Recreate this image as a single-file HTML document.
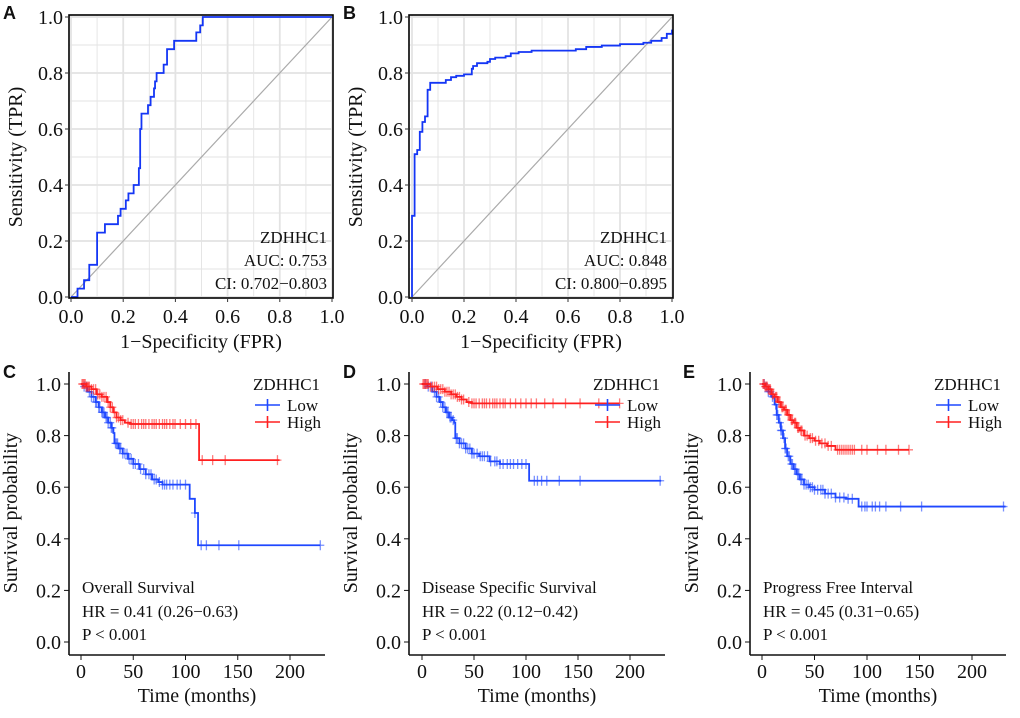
<!DOCTYPE html>
<html><head><meta charset="utf-8"><style>
body{margin:0;background:#fff}
svg text{font-family:"Liberation Serif",serif;fill:#111}
</style></head><body>
<svg id="fig" width="1020" height="713" viewBox="0 0 1020 713" xmlns="http://www.w3.org/2000/svg"></svg>
<script>
// ROC data (breakpoints: at fpr, tpr steps up to value)
const rocA_fpr=[0.025,0.05,0.07,0.1,0.13,0.18,0.19,0.21,0.22,0.24,0.26,0.265,0.27,0.295,0.305,0.318,0.322,0.328,0.355,0.368,0.395,0.48,0.495,0.505,1];
const rocA_tpr=[0.03,0.06,0.115,0.23,0.26,0.29,0.315,0.345,0.37,0.40,0.46,0.6,0.655,0.685,0.715,0.745,0.77,0.80,0.83,0.885,0.915,0.945,0.97,1,1];
const rocB_fpr=[0,0.01,0.02,0.03,0.04,0.05,0.06,0.07,0.13,0.15,0.17,0.2,0.23,0.235,0.25,0.29,0.30,0.32,0.36,0.38,0.41,0.46,0.63,0.67,0.73,0.80,0.89,0.92,0.96,0.98,1];
const rocB_tpr=[0.29,0.51,0.525,0.59,0.625,0.645,0.74,0.765,0.775,0.785,0.79,0.795,0.815,0.825,0.835,0.84,0.85,0.855,0.86,0.87,0.875,0.88,0.885,0.893,0.898,0.903,0.908,0.915,0.925,0.94,0.955];
const xTicksROC=[0,0.2,0.4,0.6,0.8,1.0];
const yTicksROC=[0,0.2,0.4,0.6,0.8,1.0];
// KM data
const cLowT=[2,6,10,14,17,20,23,26,29,31,32,36,40,45,50,56,62,68,74,78,104,109,112];
const cLowS=[0.99,0.97,0.95,0.93,0.91,0.89,0.87,0.85,0.83,0.81,0.77,0.75,0.73,0.71,0.69,0.67,0.65,0.63,0.62,0.61,0.555,0.50,0.375];
const cHighT=[5,10,15,20,25,28,31,34,38,42,47,113];
const cHighS=[0.99,0.98,0.96,0.95,0.93,0.91,0.89,0.87,0.86,0.85,0.845,0.705];
const cLowCens=[3,5,8,10,12,14,15,17,18,20,21,22,24,25,26,28,29,30,33,34,35,37,38,40,42,44,46,48,50,52,55,57,60,62,65,67,70,72,75,78,80,82,85,88,92,95,100,109,115,120,132,151,229];
const cHighCens=[1,2,3,4,5,6,7,8,10,12,14,16,18,20,22,24,26,28,30,32,34,36,38,40,45,48,50,52,55,58,60,62,65,68,70,72,75,78,80,82,85,88,90,95,100,105,110,116,126,138,188];
const dLowT=[5,10,14,17,20,23,26,29,31,32,36,42,48,55,65,75,103];
const dLowS=[0.99,0.97,0.95,0.93,0.91,0.89,0.87,0.86,0.85,0.79,0.77,0.75,0.73,0.72,0.70,0.69,0.625];
const dHighT=[8,15,22,28,33,38,43,48];
const dHighS=[0.99,0.98,0.97,0.96,0.95,0.94,0.93,0.925];
const dLowCens=[3,6,9,12,14,16,18,20,22,24,25,27,28,30,33,34,36,38,40,42,44,46,48,50,53,56,58,60,63,66,70,72,75,78,82,85,88,92,96,100,108,111,115,120,132,152,229];
const dHighCens=[1,2,3,4,5,6,8,10,12,14,16,18,20,22,24,26,28,30,32,34,36,38,40,45,48,50,52,55,58,60,62,65,68,70,72,75,78,80,85,90,95,100,105,110,118,126,138,152,170,190];
const eLowT=[3,6,9,12,14,16,18,20,22,24,27,30,33,36,40,45,50,60,70,80,92];
const eLowS=[0.99,0.97,0.95,0.92,0.88,0.85,0.82,0.79,0.75,0.72,0.69,0.67,0.65,0.63,0.61,0.60,0.59,0.575,0.56,0.555,0.525];
const eHighT=[3,6,9,12,15,18,21,24,27,30,33,36,40,45,50,55,62,70];
const eHighS=[0.99,0.98,0.96,0.95,0.93,0.91,0.90,0.88,0.86,0.85,0.83,0.82,0.80,0.79,0.78,0.77,0.76,0.745];
const eLowCens=[2,4,6,8,10,13,14,15,17,18,19,21,22,23,25,26,28,29,31,32,34,35,37,38,40,42,44,46,48,50,53,56,58,60,63,66,70,74,78,82,86,95,98,100,105,108,112,118,132,152,230];
const eHighCens=[1,2,3,4,5,6,7,8,10,11,13,14,16,17,19,20,22,23,25,26,28,29,31,32,34,35,37,38,41,43,46,48,51,54,57,60,63,66,72,74,76,78,80,82,84,86,88,95,100,110,118,130,140];
const xTicksKM=[0,50,100,150,200];
const yTicksKM=[0,0.2,0.4,0.6,0.8,1.0];

const NS="http://www.w3.org/2000/svg";
const svg=document.getElementById('fig');
function mk(tag,attrs,parent,text){const e=document.createElementNS(NS,tag);for(const k in attrs)e.setAttribute(k,attrs[k]);if(text!==undefined)e.textContent=text;(parent||svg).appendChild(e);return e;}

function panelLabel(letter,x,y){
  const t=mk('text',{x:x,y:y,'font-size':18,'font-weight':'bold',style:'font-family:"Liberation Sans",sans-serif'},svg,letter);
  
  
}

function rocPanel(id,bx0,bx1,x0,x1,fpr,tpr,auc,ci){
  const y0=297,y1=17,by0=15,by1=298;
  const sx=v=>x0+(x1-x0)*v, sy=v=>y0+(y1-y0)*v;
  const g=mk('g',{});
  
  
  for(let i=0;i<=10;i++){const v=i/10;const maj=i%2==0;
    mk('line',{x1:sx(v),x2:sx(v),y1:by0,y2:by1,stroke:'#e3e3e3','stroke-width':maj?1.8:0.9},g);
    mk('line',{x1:bx0,x2:bx1,y1:sy(v),y2:sy(v),stroke:'#e3e3e3','stroke-width':maj?1.8:0.9},g);}
  mk('line',{x1:sx(0),y1:sy(0),x2:sx(1),y2:sy(1),stroke:'#aaaaaa','stroke-width':1.2},g);
  let d='M'+sx(0)+','+sy(0);
  for(let i=0;i<fpr.length;i++){d+=' H'+sx(fpr[i])+' V'+sy(tpr[i]);}
  const p=mk('path',{d:d,fill:'none',stroke:'#1436f5','stroke-width':1.8},g);
  
  
  mk('rect',{x:bx0,y:by0,width:bx1-bx0,height:by1-by0,fill:'none',stroke:'#000','stroke-width':1.6},g);
  xTicksROC.forEach(v=>{mk('line',{x1:sx(v),x2:sx(v),y1:by1,y2:by1+4,stroke:'#333'},g);
    const t=mk('text',{x:sx(v),y:323,'font-size':20,'text-anchor':'middle'},g,v.toFixed(1));
    });
  yTicksROC.forEach(v=>{mk('line',{x1:bx0-4,x2:bx0,y1:sy(v),y2:sy(v),stroke:'#333'},g);
    const t=mk('text',{x:bx0-6,y:sy(v)+7,'font-size':20,'text-anchor':'end'},g,v.toFixed(1));
    });
  const xt=mk('text',{x:(bx0+bx1)/2,y:348,'font-size':20,'text-anchor':'middle'},g,'1\u2212Specificity (FPR)');
  
  const cy=157,cx=bx0-47;
  const yt=mk('text',{x:cx,y:cy,'font-size':20,'text-anchor':'middle',transform:'rotate(-90 '+cx+' '+cy+')'},g,'Sensitivity (TPR)');
  
  const ax=bx1-6;
  [['ZDHHC1',243],['AUC: '+auc,266],['CI: '+ci,289]].forEach((a,i)=>{
    const t=mk('text',{x:ax,y:a[1],'font-size':17,'text-anchor':'end'},g,a[0]);
    });
}

function stepY(T,S,t){let s=1;for(let i=0;i<T.length;i++){if(T[i]<=t)s=S[i];}return s;}

function kmPanel(id,ax,x0,x200,lowT,lowS,lowEnd,lowC,highT,highS,highEnd,highC,title,hr){
  const sx=v=>x0+(x200-x0)*v/200, sy=v=>642-258*v;
  const bottom=655,top=372;
  const g=mk('g',{});
  
  
  mk('line',{x1:ax,x2:ax,y1:top,y2:bottom,stroke:'#111','stroke-width':1.6},g);
  mk('line',{x1:ax,x2:ax+256,y1:bottom,y2:bottom,stroke:'#111','stroke-width':1.6},g);
  xTicksKM.forEach(v=>{mk('line',{x1:sx(v),x2:sx(v),y1:bottom,y2:bottom+5,stroke:'#111'},g);
    const t=mk('text',{x:sx(v),y:678,'font-size':20,'text-anchor':'middle'},g,String(v));
    });
  yTicksKM.forEach(v=>{mk('line',{x1:ax-5,x2:ax,y1:sy(v),y2:sy(v),stroke:'#111'},g);
    const t=mk('text',{x:ax-8,y:sy(v)+7,'font-size':20,'text-anchor':'end'},g,v.toFixed(1));
    });
  const xt=mk('text',{x:ax+128,y:702,'font-size':20,'text-anchor':'middle'},g,'Time (months)');
  
  const cx=ax-52,cy=513;
  const yt=mk('text',{x:cx,y:cy,'font-size':20,'text-anchor':'middle',transform:'rotate(-90 '+cx+' '+cy+')'},g,'Survival probability');
  
  function curve(T,S,end,C,col,name){
    let d='M'+sx(0)+','+sy(1);
    for(let i=0;i<T.length;i++){d+=' H'+sx(T[i])+' V'+sy(S[i]);}
    d+=' H'+sx(end);
    const p=mk('path',{d:d,fill:'none',stroke:col,'stroke-width':1.8},g);
    
    C.forEach(t=>{const x=sx(t),y=sy(stepY(T,S,t));
      const c=mk('path',{d:'M'+(x-4)+','+y+' H'+(x+4)+' M'+x+','+(y-5)+' V'+(y+5),stroke:col,'stroke-width':1.3,'stroke-opacity':0.6,fill:'none'},g);
      });
  }
  curve(lowT,lowS,lowEnd,lowC,'#1f48ff','low');
  curve(highT,highS,highEnd,highC,'#ff2020','high');
  const lx=ax+184;
  const lt=mk('text',{x:lx,y:390,'font-size':17},g,'ZDHHC1');
  
  [['Low','#1f48ff',405],['High','#ff2020',422]].forEach(a=>{
    const e=mk('g',{},g);
    
    
    mk('line',{x1:lx+2,x2:lx+27,y1:a[2],y2:a[2],stroke:a[1],'stroke-width':1.6},e);
    mk('line',{x1:lx+14.5,x2:lx+14.5,y1:a[2]-6,y2:a[2]+6,stroke:a[1],'stroke-width':1.6},e);
    mk('text',{x:lx+34,y:a[2]+6,'font-size':17},e,a[0]);
  });
  [[title,593,'survival-type-label'],[hr,617,'hazard-ratio-label'],['P < 0.001',640,'p-value-label']].forEach(a=>{
    const t=mk('text',{x:ax+13,y:a[1],'font-size':17},g,a[0]);
    });
}

rocPanel('a',69,333,71,332,rocA_fpr,rocA_tpr,'0.753','0.702\u22120.803');
rocPanel('b',409,673,412,672,rocB_fpr,rocB_tpr,'0.848','0.800\u22120.895');
kmPanel('c',69,81,290,cLowT,cLowS,229,cLowCens,cHighT,cHighS,190,cHighCens,'Overall Survival','HR = 0.41 (0.26\u22120.63)');
kmPanel('d',409,422,630,dLowT,dLowS,230,dLowCens,dHighT,dHighS,190,dHighCens,'Disease Specific Survival','HR = 0.22 (0.12\u22120.42)');
kmPanel('e',750,762,972,eLowT,eLowS,232,eLowCens,eHighT,eHighS,140,eHighCens,'Progress Free Interval','HR = 0.45 (0.31\u22120.65)');
panelLabel('A',3,19);panelLabel('B',343,19);panelLabel('C',3,378);panelLabel('D',343,378);panelLabel('E',683,378);
</script>
</body></html>
